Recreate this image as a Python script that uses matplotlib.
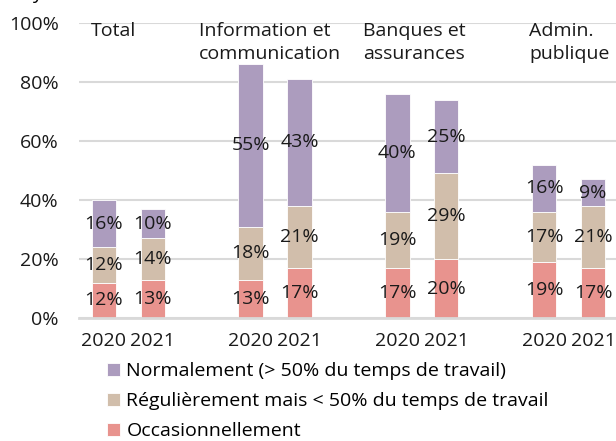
import matplotlib
matplotlib.use('Agg')
import matplotlib.pyplot as plt
import numpy as np

plt.rcParams['font.family'] = ['Open Sans', 'DejaVu Sans']
plt.rcParams['font.size'] = 14

groups = ['Total', 'Information et\ncommunication', 'Banques et\nassurances', 'Admin.\npublique']
years = ['2020', '2021']
series = ['Occasionnellement',
          'Régulièrement mais < 50% du temps de travail',
          'Normalement (> 50% du temps de travail)']
occasionnel = [12, 13, 13, 17, 17, 20, 19, 17]
regulier = [12, 14, 18, 21, 19, 29, 17, 21]
normal = [16, 10, 55, 43, 40, 25, 16, 9]
colors = ['#E8938E', '#D1BEAB', '#AC9CBE']

pos = np.array([0, 1, 3, 4, 6, 7, 9, 10])

fig = plt.figure(figsize=(6.16, 4.41), dpi=100)
ax = fig.add_axes([79.4 / 616, 1 - 318 / 441, 538 / 616, 295 / 441])

bottom = np.zeros(len(pos))
bars = []
for vals, col, name in zip([occasionnel, regulier, normal], colors, series):
    vals = np.array(vals, dtype=float)
    b = ax.bar(pos, vals, 0.5, bottom=bottom, color=col, edgecolor='white',
               linewidth=0.6, label=name, zorder=3)
    bars.append(b)
    for x, v, b0 in zip(pos, vals, bottom):
        ax.text(x, b0 + v / 2, f'{v:.0f}%', ha='center', va='center',
                fontsize=14, color='#1a1a1a', zorder=4)
    bottom += vals

ax.set_xlim(-0.5, 10.5)
ax.set_ylim(0, 100)
ax.set_yticks(range(0, 101, 20))
ax.set_yticklabels([f'{v}%' for v in range(0, 101, 20)])
ax.set_xticks(pos)
ax.set_xticklabels(years * 4)
ax.tick_params(axis='both', length=0, labelsize=14, colors='#1a1a1a')
ax.tick_params(axis='y', pad=15)
ax.tick_params(axis='x', pad=10)
ax.grid(axis='y', color='#D9D9D9', linewidth=1.5, zorder=0)
for s in ['top', 'right', 'left']:
    ax.spines[s].set_visible(False)
ax.spines['bottom'].set_color('#D9D9D9')
ax.spines['bottom'].set_linewidth(2)
ax.spines['bottom'].set_zorder(5)

label_x = [-0.26, 1.95, 5.30, 8.70]
for gx, g in zip(label_x, groups):
    ax.text(gx, 100.5, g, ha='left', va='top', fontsize=14,
            color='#1a1a1a', linespacing=1.4, zorder=6)

handles = [bars[2], bars[1], bars[0]]
fig.legend(handles, [series[2], series[1], series[0]],
           loc='upper left', bbox_to_anchor=(107 / 616, 1 - 362 / 441),
           frameon=False, fontsize=14, handlelength=0.65, handleheight=0.65,
           handletextpad=0.35, labelspacing=0.62, borderaxespad=0, borderpad=0)

fig.text(32 / 616, 1 + 1.5 / 441, 'y', fontsize=14, va='baseline', ha='left')

fig.savefig('out.png', dpi=100)
